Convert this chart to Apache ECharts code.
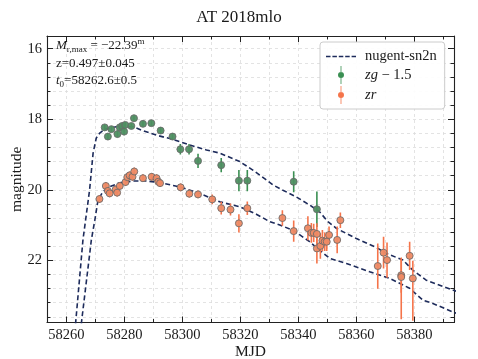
<!DOCTYPE html>
<html><head><meta charset="utf-8">
<script src="https://cdn.jsdelivr.net/npm/echarts@6/dist/echarts.min.js"></script>
<style>html,body{margin:0;padding:0;background:#fff}#c{width:478px;height:359px}</style>
</head><body><div id="c"></div>
<script>
// ---- data ----
const gMJD = [58273.2, 58274.3, 58275.5, 58277.6, 58278.4, 58279.2, 58279.9, 58280.3, 58282.4, 58283.3, 58286.4, 58289.3, 58292.5, 58296.6, 58299.3, 58302.3, 58305.4, 58313.4, 58319.5, 58322.4, 58338.4, 58346.4];
const gMag = [18.23, 18.49, 18.28, 18.42, 18.23, 18.19, 18.35, 18.16, 18.19, 17.97, 18.13, 18.11, 18.32, 18.49, 18.85, 18.85, 19.18, 19.30, 19.74, 19.74, 19.77, 20.55];
const gErr = [0.08, 0.1, 0.08, 0.1, 0.08, 0.08, 0.1, 0.08, 0.08, 0.08, 0.08, 0.08, 0.1, 0.1, 0.15, 0.15, 0.2, 0.2, 0.3, 0.3, 0.3, 0.5];

const rMJD = [58271.4, 58273.6, 58274.3, 58274.9, 58277.0, 58277.5, 58278.4, 58280.4, 58281.0, 58281.8, 58282.8, 58283.4, 58286.4, 58289.4, 58291.1, 58291.7, 58292.3, 58299.4, 58302.4, 58305.4, 58310.3, 58313.4, 58316.6, 58319.5, 58322.4, 58334.5, 58338.4, 58343.3, 58344.5, 58345.3, 58346.4, 58346.4, 58347.6, 58348.3, 58349.1, 58349.8, 58350.6, 58353.4, 58354.5, 58367.4, 58369.4, 58370.6, 58375.5, 58375.5, 58378.4, 58379.5];
const rMag = [20.26, 19.89, 20.03, 20.10, 19.99, 20.08, 19.89, 19.78, 19.64, 19.59, 19.63, 19.48, 19.67, 19.63, 19.67, 19.77, 19.81, 19.93, 20.11, 20.13, 20.27, 20.52, 20.56, 20.95, 20.52, 20.80, 21.17, 21.09, 21.22, 21.22, 21.25, 21.66, 21.59, 21.44, 21.47, 21.47, 21.28, 21.42, 20.86, 22.16, 21.78, 21.99, 22.42, 22.47, 21.87, 22.51];
const rErrUp = [0.11, 0.11, 0.11, 0.11, 0.11, 0.11, 0.11, 0.11, 0.11, 0.11, 0.11, 0.11, 0.11, 0.11, 0.11, 0.11, 0.11, 0.11, 0.11, 0.11, 0.14, 0.18, 0.17, 0.26, 0.19, 0.22, 0.3, 0.34, 0.28, 0.26, 0.3, 0.43, 0.36, 0.3, 0.26, 0.26, 0.24, 0.38, 0.22, 0.64, 0.45, 0.5, 0.5, 0.5, 0.4, 0.5];
const rErrDown = [0.11, 0.11, 0.11, 0.11, 0.11, 0.11, 0.11, 0.11, 0.11, 0.11, 0.11, 0.11, 0.11, 0.11, 0.11, 0.11, 0.11, 0.11, 0.11, 0.11, 0.14, 0.18, 0.17, 0.26, 0.19, 0.22, 0.3, 0.34, 0.28, 0.26, 0.3, 0.43, 0.36, 0.3, 0.26, 0.26, 0.24, 0.38, 0.22, 0.64, 0.45, 0.5, 0.5, 1.2, 0.4, 1.2];

const gModelMJD = [58262.9, 58263.2, 58265.7, 58268.0, 58269.2, 58270.3, 58271.5, 58273.2, 58277.2, 58282.9, 58286.3, 58291.0, 58296.7, 58302.6, 58308.3, 58312.9, 58319.8, 58324.3, 58329.0, 58331.2, 58334.7, 58339.3, 58343.9, 58347.3, 58350.2, 58353.1, 58360.0, 58366.9, 58370.3, 58376.1, 58379.5, 58384.1, 58393.3, 58396.0];
const gModelMag = [24.26, 23.75, 21.42, 20.00, 18.96, 18.53, 18.39, 18.28, 18.21, 18.21, 18.32, 18.45, 18.57, 18.73, 18.87, 18.96, 19.20, 19.44, 19.72, 19.86, 20.01, 20.20, 20.43, 20.62, 20.90, 21.09, 21.38, 21.63, 21.80, 21.99, 22.28, 22.56, 22.84, 22.91];
const rModelMJD = [58264.9, 58265.2, 58268.6, 58269.8, 58270.9, 58272.6, 58274.9, 58278.4, 58283.0, 58287.6, 58292.2, 58299.1, 58306.0, 58312.9, 58319.8, 58325.5, 58330.1, 58333.6, 58338.1, 58343.9, 58347.3, 58350.8, 58356.6, 58364.6, 58371.5, 58378.4, 58383.0, 58386.4, 58393.3, 58396.0];
const rModelMag = [24.26, 23.75, 21.42, 20.86, 20.29, 20.05, 19.91, 19.80, 19.75, 19.75, 19.79, 19.92, 20.10, 20.34, 20.48, 20.69, 20.90, 21.00, 21.14, 21.47, 21.71, 21.94, 22.09, 22.32, 22.51, 22.79, 23.13, 23.22, 23.46, 23.54];

const xMajorTicks = [58260, 58280, 58300, 58320, 58340, 58360, 58380];
const xMinorTicks = [58260, 58270, 58280, 58290, 58300, 58310, 58320, 58330, 58340, 58350, 58360, 58370, 58380, 58390];
const yMajorTicks = [16, 18, 20, 22];
const yMinorTicks = [16, 16.4, 16.8, 17.2, 17.6, 18, 18.4, 18.8, 19.2, 19.6, 20, 20.4, 20.8, 21.2, 21.6, 22, 22.4, 22.8, 23.2, 23.6];

const titleText = 'AT 2018mlo';
const modelName = 'nugent-sn2n';
const gName = 'zg − 1.5';
const rName = 'zr';

// ---- styling ----
const FONT = '"Liberation Serif", "DejaVu Serif", serif';
const TXT = '#1a1a1a';
const X_MIN = 58253.3, X_MAX = 58393.7;
const Y_MIN = 15.64, Y_MAX = 23.76;
const MODEL_COLOR = '#1d2b5b';
const G_ERR = '#3a8f52', G_FILL = '#4f8f62';
const R_ERR = '#f5744a', R_FILL = '#ee8a64';
const GRID_LINE = { show: true, lineStyle: { color: '#dcdcdc', width: 0.8, type: [3, 3] } };
const plain = v => String(v);

function xAxisDef(pos, ticks, len, opts) {
  return Object.assign({
    type: 'value', position: pos, min: X_MIN, max: X_MAX, gridIndex: 0,
    axisLine: { show: false, onZero: false },
    axisTick: { show: true, inside: true, length: len, customValues: ticks, lineStyle: { color: '#222', width: 1 } },
    axisLabel: { show: false },
    splitLine: { show: false }
  }, opts || {});
}
function yAxisDef(pos, ticks, len, opts) {
  return Object.assign({
    type: 'value', position: pos, min: Y_MIN, max: Y_MAX, inverse: true, gridIndex: 0,
    axisLine: { show: false, onZero: false },
    axisTick: { show: true, inside: true, length: len, customValues: ticks, lineStyle: { color: '#222', width: 1 } },
    axisLabel: { show: false },
    splitLine: { show: false }
  }, opts || {});
}
const frameLine = { show: true, onZero: false, lineStyle: { color: '#222', width: 1.1 } };

const xAxes = [
  xAxisDef('bottom', xMinorTicks, 3.5, { axisLine: frameLine, splitLine: GRID_LINE }),
  xAxisDef('bottom', xMajorTicks, 6, {
    axisLabel: { show: true, customValues: xMajorTicks, formatter: plain, margin: 5, fontFamily: FONT, fontSize: 14.5, color: TXT },
    name: 'MJD', nameLocation: 'middle', nameGap: 21, nameMoveOverlap: false,
    nameTextStyle: { fontFamily: FONT, fontSize: 15.5, color: TXT }
  }),
  xAxisDef('top', xMinorTicks, 3.5, { axisLine: frameLine }),
  xAxisDef('top', xMajorTicks, 6)
];
const yAxes = [
  yAxisDef('left', yMinorTicks, 3.5, { axisLine: frameLine, splitLine: GRID_LINE }),
  yAxisDef('left', yMajorTicks, 6, {
    axisLabel: { show: true, customValues: yMajorTicks, formatter: plain, margin: 5, fontFamily: FONT, fontSize: 14.5, color: TXT },
    name: 'magnitude', nameLocation: 'middle', nameGap: 22, nameRotate: 90, nameMoveOverlap: false,
    nameTextStyle: { fontFamily: FONT, fontSize: 15.5, color: TXT }
  }),
  yAxisDef('right', yMinorTicks, 3.5, { axisLine: frameLine }),
  yAxisDef('right', yMajorTicks, 6)
];

function zip(a, b) { return a.map((v, i) => [v, b[i]]); }
const gErrData = gMJD.map((v, i) => [v, gMag[i], gErr[i], gErr[i]]);
const rErrData = rMJD.map((v, i) => [v, rMag[i], rErrUp[i], rErrDown[i]]);

function errSeries(name, data, color, z) {
  return {
    name: name, type: 'custom', xAxisIndex: 0, yAxisIndex: 0, z: z, clip: true,
    itemStyle: { color: color },
    encode: { x: 0, y: 1 },
    data: data,
    renderItem: function (params, api) {
      const x = api.value(0), y = api.value(1), up = api.value(2), dn = api.value(3);
      const p1 = api.coord([x, y - up]);
      const p2 = api.coord([x, y + dn]);
      return { type: 'line', shape: { x1: p1[0], y1: p1[1], x2: p2[0], y2: p2[1] },
               style: { stroke: color, lineWidth: 1.6 } };
    }
  };
}
function ptSeries(name, data, color, z) {
  return {
    name: name, type: 'scatter', xAxisIndex: 0, yAxisIndex: 0, z: z,
    symbol: 'circle', symbolSize: 7,
    itemStyle: { color: color, borderColor: '#6a6a6a', borderWidth: 0.9, opacity: 0.95 },
    data: data
  };
}
function modelSeries(mjd, mag) {
  return {
    name: modelName, type: 'line', xAxisIndex: 0, yAxisIndex: 0, z: 1,
    symbol: 'none', showSymbol: false, clip: true,
    lineStyle: { color: MODEL_COLOR, width: 1.6, type: [5, 3] },
    itemStyle: { color: MODEL_COLOR },
    data: zip(mjd, mag)
  };
}

const errIcon = 'path://M2.6,0 L3.4,0 L3.4,18 L2.6,18 Z M6,9 A3,3 0 1 1 0,9 A3,3 0 1 1 6,9 Z';
const dashIcon = 'path://M0,0 H4.5 V1.6 H0 Z M6.4,0 H10.9 V1.6 H6.4 Z M12.8,0 H17.3 V1.6 H12.8 Z M19.2,0 H23.7 V1.6 H19.2 Z M25.6,0 H30 V1.6 H25.6 Z';

const option = {
  animation: false,
  backgroundColor: '#fff',
  title: { text: titleText, left: 'center', top: 4,
           textStyle: { fontFamily: FONT, fontSize: 17, fontWeight: 'normal', color: TXT } },
  grid: { left: 47, right: 24, top: 36, bottom: 36.5, containLabel: false, outerBoundsMode: 'none' },
  xAxis: xAxes,
  yAxis: yAxes,
  legend: {
    orient: 'vertical', left: 320, top: 42, padding: [7, 8, 5, 6],
    backgroundColor: 'rgba(255,255,255,0.9)', borderColor: '#cccccc', borderWidth: 1, borderRadius: 3,
    itemWidth: 30, itemHeight: 18, itemGap: 2,
    data: [
      { name: modelName, icon: dashIcon, itemStyle: { color: MODEL_COLOR } },
      { name: gName, icon: errIcon, itemStyle: { color: G_ERR } },
      { name: rName, icon: errIcon, itemStyle: { color: R_ERR } }
    ],
    formatter: function (name) {
      if (name === gName) return '{i|zg} − 1.5';
      if (name === rName) return '{i|zr}';
      return name;
    },
    textStyle: { fontFamily: FONT, fontSize: 14.5, color: TXT, padding: [0, 0, 0, 4],
      rich: { i: { fontFamily: FONT, fontStyle: 'italic', fontSize: 14.5, color: TXT } } }
  },
  graphic: [{
    type: 'text', left: 56, top: 37, z: 10,
    style: {
      text: '{i|M}{sub|r,max}{n| = −22.39}{sup|m}\n{n|z=0.497±0.045}\n{i|t}{sub|0}{n|=58262.6±0.5}',
      fill: TXT,
      rich: {
        n: { fontFamily: FONT, fontSize: 13, lineHeight: 17.5, fill: TXT },
        i: { fontFamily: FONT, fontSize: 13, fontStyle: 'italic', lineHeight: 17.5, fill: TXT },
        sub: { fontFamily: FONT, fontSize: 9, lineHeight: 10, verticalAlign: 'bottom', fill: TXT },
        sup: { fontFamily: FONT, fontSize: 9, lineHeight: 10, verticalAlign: 'top', fill: TXT }
      }
    }
  }],
  series: [
    modelSeries(gModelMJD, gModelMag),
    modelSeries(rModelMJD, rModelMag),
    errSeries(gName, gErrData, G_ERR, 2),
    ptSeries(gName, zip(gMJD, gMag), G_FILL, 3),
    errSeries(rName, rErrData, R_ERR, 4),
    ptSeries(rName, zip(rMJD, rMag), R_FILL, 5)
  ]
};

const chart = echarts.init(document.getElementById('c'), null, { renderer: 'canvas' });
chart.setOption(option);
</script></body></html>
